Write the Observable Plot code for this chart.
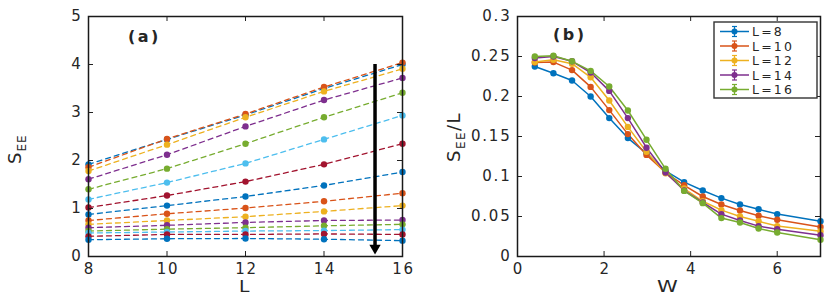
<!DOCTYPE html>
<html>
<head>
<meta charset="utf-8">
<script src="https://cdn.jsdelivr.net/npm/d3@7"></script>
<script src="https://cdn.jsdelivr.net/npm/@observablehq/plot@0.6"></script>
<style>
  body { margin: 0; background: #fff; font-family: "DejaVu Sans", sans-serif; }
  #wrap { position: relative; width: 830px; height: 300px; overflow: hidden; }
  .panel { position: absolute; top: 0; }
  .panel text { letter-spacing: 1.8px; }
  .lbl { position: absolute; color: #262626; font-family: "DejaVu Sans", sans-serif; white-space: nowrap; line-height: 1; }
  .rot { transform-origin: 0 0; transform: rotate(-90deg); }
  sub { font-size: 66%; vertical-align: -0.4em; }
</style>
</head>
<body>
<div id="wrap"></div>
<script>
// ---------- Panel (a) data ----------
const sizesL = [8, 10, 12, 14, 16];
// S_EE vs L, one curve per disorder strength (top to bottom)
const seeCurves = [
  [1.92, 2.44, 2.95, 3.50, 4.00],
  [1.86, 2.45, 2.97, 3.53, 4.04],
  [1.78, 2.33, 2.90, 3.44, 3.91],
  [1.61, 2.12, 2.71, 3.26, 3.72],
  [1.40, 1.83, 2.35, 2.90, 3.41],
  [1.19, 1.54, 1.94, 2.44, 2.94],
  [1.02, 1.27, 1.56, 1.92, 2.35],
  [0.875, 1.06, 1.25, 1.48, 1.76],
  [0.75, 0.89, 1.01, 1.15, 1.32],
  [0.67, 0.75, 0.83, 0.94, 1.06],
  [0.60, 0.65, 0.71, 0.75, 0.76],
  [0.53, 0.57, 0.60, 0.64, 0.67],
  [0.49, 0.51, 0.53, 0.54, 0.56],
  [0.42, 0.46, 0.46, 0.47, 0.46],
  [0.35, 0.37, 0.375, 0.36, 0.33]
];
const arrowA = [{L: 15.3, from: 4.0, to: 0.2}];
const ticksAx = [8, 10, 12, 14, 16];
const ticksAy = [0, 1, 2, 3, 4, 5];

// ---------- Panel (b) data ----------
const disorderW = [0.4, 0.83, 1.26, 1.69, 2.12, 2.55, 2.98, 3.42, 3.85, 4.28, 4.71, 5.14, 5.57, 6.0, 7.0];
const legendLabels = ["L=8", "L=10", "L=12", "L=14", "L=16"];
const seeL8  = [0.2375, 0.229, 0.220, 0.200, 0.173, 0.148, 0.129, 0.107, 0.093, 0.0825, 0.073, 0.065, 0.059, 0.053, 0.044];
const seeL10 = [0.2425, 0.243, 0.233, 0.212, 0.183, 0.153, 0.127, 0.105, 0.089, 0.075, 0.065, 0.0575, 0.051, 0.046, 0.037];
const seeL12 = [0.243, 0.246, 0.241, 0.224, 0.195, 0.162, 0.131, 0.104, 0.085, 0.069, 0.058, 0.050, 0.044, 0.038, 0.0317];
const seeL14 = [0.248, 0.250, 0.244, 0.230, 0.207, 0.173, 0.136, 0.105, 0.0825, 0.0675, 0.053, 0.045, 0.038, 0.034, 0.0267];
const seeL16 = [0.250, 0.251, 0.244, 0.232, 0.2125, 0.1825, 0.146, 0.1096, 0.082, 0.0667, 0.048, 0.0425, 0.035, 0.030, 0.021];
const ticksBx = [0, 2, 4, 6];
const ticksBy = [0, 0.05, 0.1, 0.15, 0.2, 0.25, 0.3];

// MATLAB default colour order
const palette = ["#0072BD", "#D95319", "#EDB120", "#7E2F8E", "#77AC30", "#4DBEEE", "#A2142F"];

const wrap = document.getElementById("wrap");
const font = "'DejaVu Sans', sans-serif";
const fmt = d => String(+d.toFixed(2));

function boxTicks(xTicks, yTicks, innerW, innerH) {
  const t = 5;
  return [
    Plot.tickX(xTicks, {x: d => d, insetTop: innerH - t, stroke: "#222", strokeWidth: 1}),
    Plot.tickX(xTicks, {x: d => d, insetBottom: innerH - t, stroke: "#222", strokeWidth: 1}),
    Plot.tickY(yTicks, {y: d => d, insetRight: innerW - t, stroke: "#222", strokeWidth: 1}),
    Plot.tickY(yTicks, {y: d => d, insetLeft: innerW - t, stroke: "#222", strokeWidth: 1}),
    Plot.frame({stroke: "#1a1a1a", strokeWidth: 1.5})
  ];
}

// ---------- Panel (a) ----------
const rowsA = [];
seeCurves.forEach((c, s) => c.forEach((v, j) => rowsA.push({s, L: sizesL[j], v, col: palette[s % 7]})));
const wA = 430, mlA = 88, mrA = 28, mtA = 16, mbA = 44;
const plotA = Plot.plot({
  width: wA, height: 300,
  marginLeft: mlA, marginRight: mrA, marginTop: mtA, marginBottom: mbA,
  style: {fontFamily: font, fontSize: "15px", color: "#262626", background: "transparent", overflow: "visible"},
  x: {domain: [8, 16], ticks: ticksAx, tickFormat: fmt, label: null},
  y: {domain: [0, 5], ticks: ticksAy, tickFormat: fmt, label: null},
  marks: [
    Plot.axisX(ticksAx, {tickSize: 0, tickPadding: 7, dx: 1, tickFormat: fmt, label: null}),
    Plot.axisY(ticksAy, {tickSize: 0, tickPadding: 6, tickFormat: fmt, label: null}),
    Plot.line(rowsA, {x: "L", y: "v", z: "s", stroke: "col", strokeWidth: 1.3, strokeDasharray: "5,4"}),
    Plot.dot(rowsA, {x: "L", y: "v", fill: "col", r: 3.2}),
    Plot.ruleX(arrowA, {x: "L", y1: "from", y2: "to", stroke: "black", strokeWidth: 3.5}),
    Plot.dot(arrowA, {x: "L", y: "to", symbol: "triangle", rotate: 180, r: 4.2, fill: "black", dy: 1}),
    ...boxTicks(ticksAx, ticksAy, wA - mlA - mrA, 300 - mtA - mbA)
  ]
});
plotA.classList.add("panel");
plotA.style.left = "0px";
wrap.appendChild(plotA);

// ---------- Panel (b) ----------
const seriesB = [seeL8, seeL10, seeL12, seeL14, seeL16];
const rowsB = [];
seriesB.forEach((arr, s) => arr.forEach((v, j) => rowsB.push({s, W: disorderW[j], v, col: palette[s]})));
const wB = 400, mlB = 87, mrB = 10, mtB = 16, mbB = 44;
const plotB = Plot.plot({
  width: wB, height: 300,
  marginLeft: mlB, marginRight: mrB, marginTop: mtB, marginBottom: mbB,
  style: {fontFamily: font, fontSize: "15px", color: "#262626", background: "transparent", overflow: "visible"},
  x: {domain: [0, 7], ticks: ticksBx, tickFormat: fmt, label: null},
  y: {domain: [0, 0.3], ticks: ticksBy, tickFormat: fmt, label: null},
  marks: [
    Plot.axisX(ticksBx, {tickSize: 0, tickPadding: 7, dx: 1, tickFormat: fmt, label: null}),
    Plot.axisY(ticksBy, {tickSize: 0, tickPadding: 6, tickFormat: fmt, label: null}),
    Plot.line(rowsB, {x: "W", y: "v", z: "s", stroke: "col", strokeWidth: 1.5}),
    Plot.dot(rowsB, {x: "W", y: "v", fill: "col", r: 3.2}),
    ...boxTicks(ticksBx, ticksBy, wB - mlB - mrB, 300 - mtB - mbB)
  ]
});
plotB.classList.add("panel");
plotB.style.left = "430px";
wrap.appendChild(plotB);

// ---------- Text labels ----------
function addLabel(html, css) {
  const d = document.createElement("div");
  d.className = "lbl";
  d.innerHTML = html;
  Object.assign(d.style, css);
  wrap.appendChild(d);
  return d;
}
addLabel("(a)", {left: "128px", top: "29px", fontSize: "16px", fontWeight: "bold", letterSpacing: "2.5px"});
addLabel("(b)", {left: "553px", top: "27px", fontSize: "16px", fontWeight: "bold", letterSpacing: "2.5px"});
addLabel("L", {left: "239px", top: "280px", fontSize: "15px", transform: "scaleX(1.25)", transformOrigin: "0 0"});
addLabel("W", {left: "657px", top: "280px", fontSize: "15px", transform: "scaleX(1.4)", transformOrigin: "0 0"});
addLabel("S<sub>EE</sub>", {left: "6px", top: "164px", fontSize: "18px", letterSpacing: "1px"}).classList.add("rot");
addLabel("S<sub>EE</sub>/L", {left: "445px", top: "162px", fontSize: "18px", letterSpacing: "1.5px"}).classList.add("rot");

// ---------- Legend (b) ----------
const leg = d3.select(wrap).append("svg")
  .attr("width", 106).attr("height", 80)
  .style("position", "absolute").style("left", "713px").style("top", "21px");
leg.append("rect").attr("x", 1).attr("y", 1).attr("width", 103).attr("height", 76)
  .attr("fill", "white").attr("stroke", "#333").attr("stroke-width", 1.4);
legendLabels.forEach((lab, i) => {
  const cy = 10.5 + i * 14.5, c = palette[i];
  const g = leg.append("g");
  g.append("line").attr("x1", 7).attr("x2", 36).attr("y1", cy).attr("y2", cy).attr("stroke", c).attr("stroke-width", 1.5);
  g.append("line").attr("x1", 21.5).attr("x2", 21.5).attr("y1", cy - 5).attr("y2", cy + 5).attr("stroke", c).attr("stroke-width", 1.2);
  g.append("line").attr("x1", 19).attr("x2", 24).attr("y1", cy - 5).attr("y2", cy - 5).attr("stroke", c).attr("stroke-width", 1.2);
  g.append("line").attr("x1", 19).attr("x2", 24).attr("y1", cy + 5).attr("y2", cy + 5).attr("stroke", c).attr("stroke-width", 1.2);
  g.append("circle").attr("cx", 21.5).attr("cy", cy).attr("r", 3).attr("fill", c);
  g.append("text").attr("x", 39).attr("y", cy + 4.5).text(lab)
    .attr("font-family", font).attr("font-size", "12.5px").attr("letter-spacing", "2.2px").attr("fill", "#262626");
});
</script>
</body>
</html>
